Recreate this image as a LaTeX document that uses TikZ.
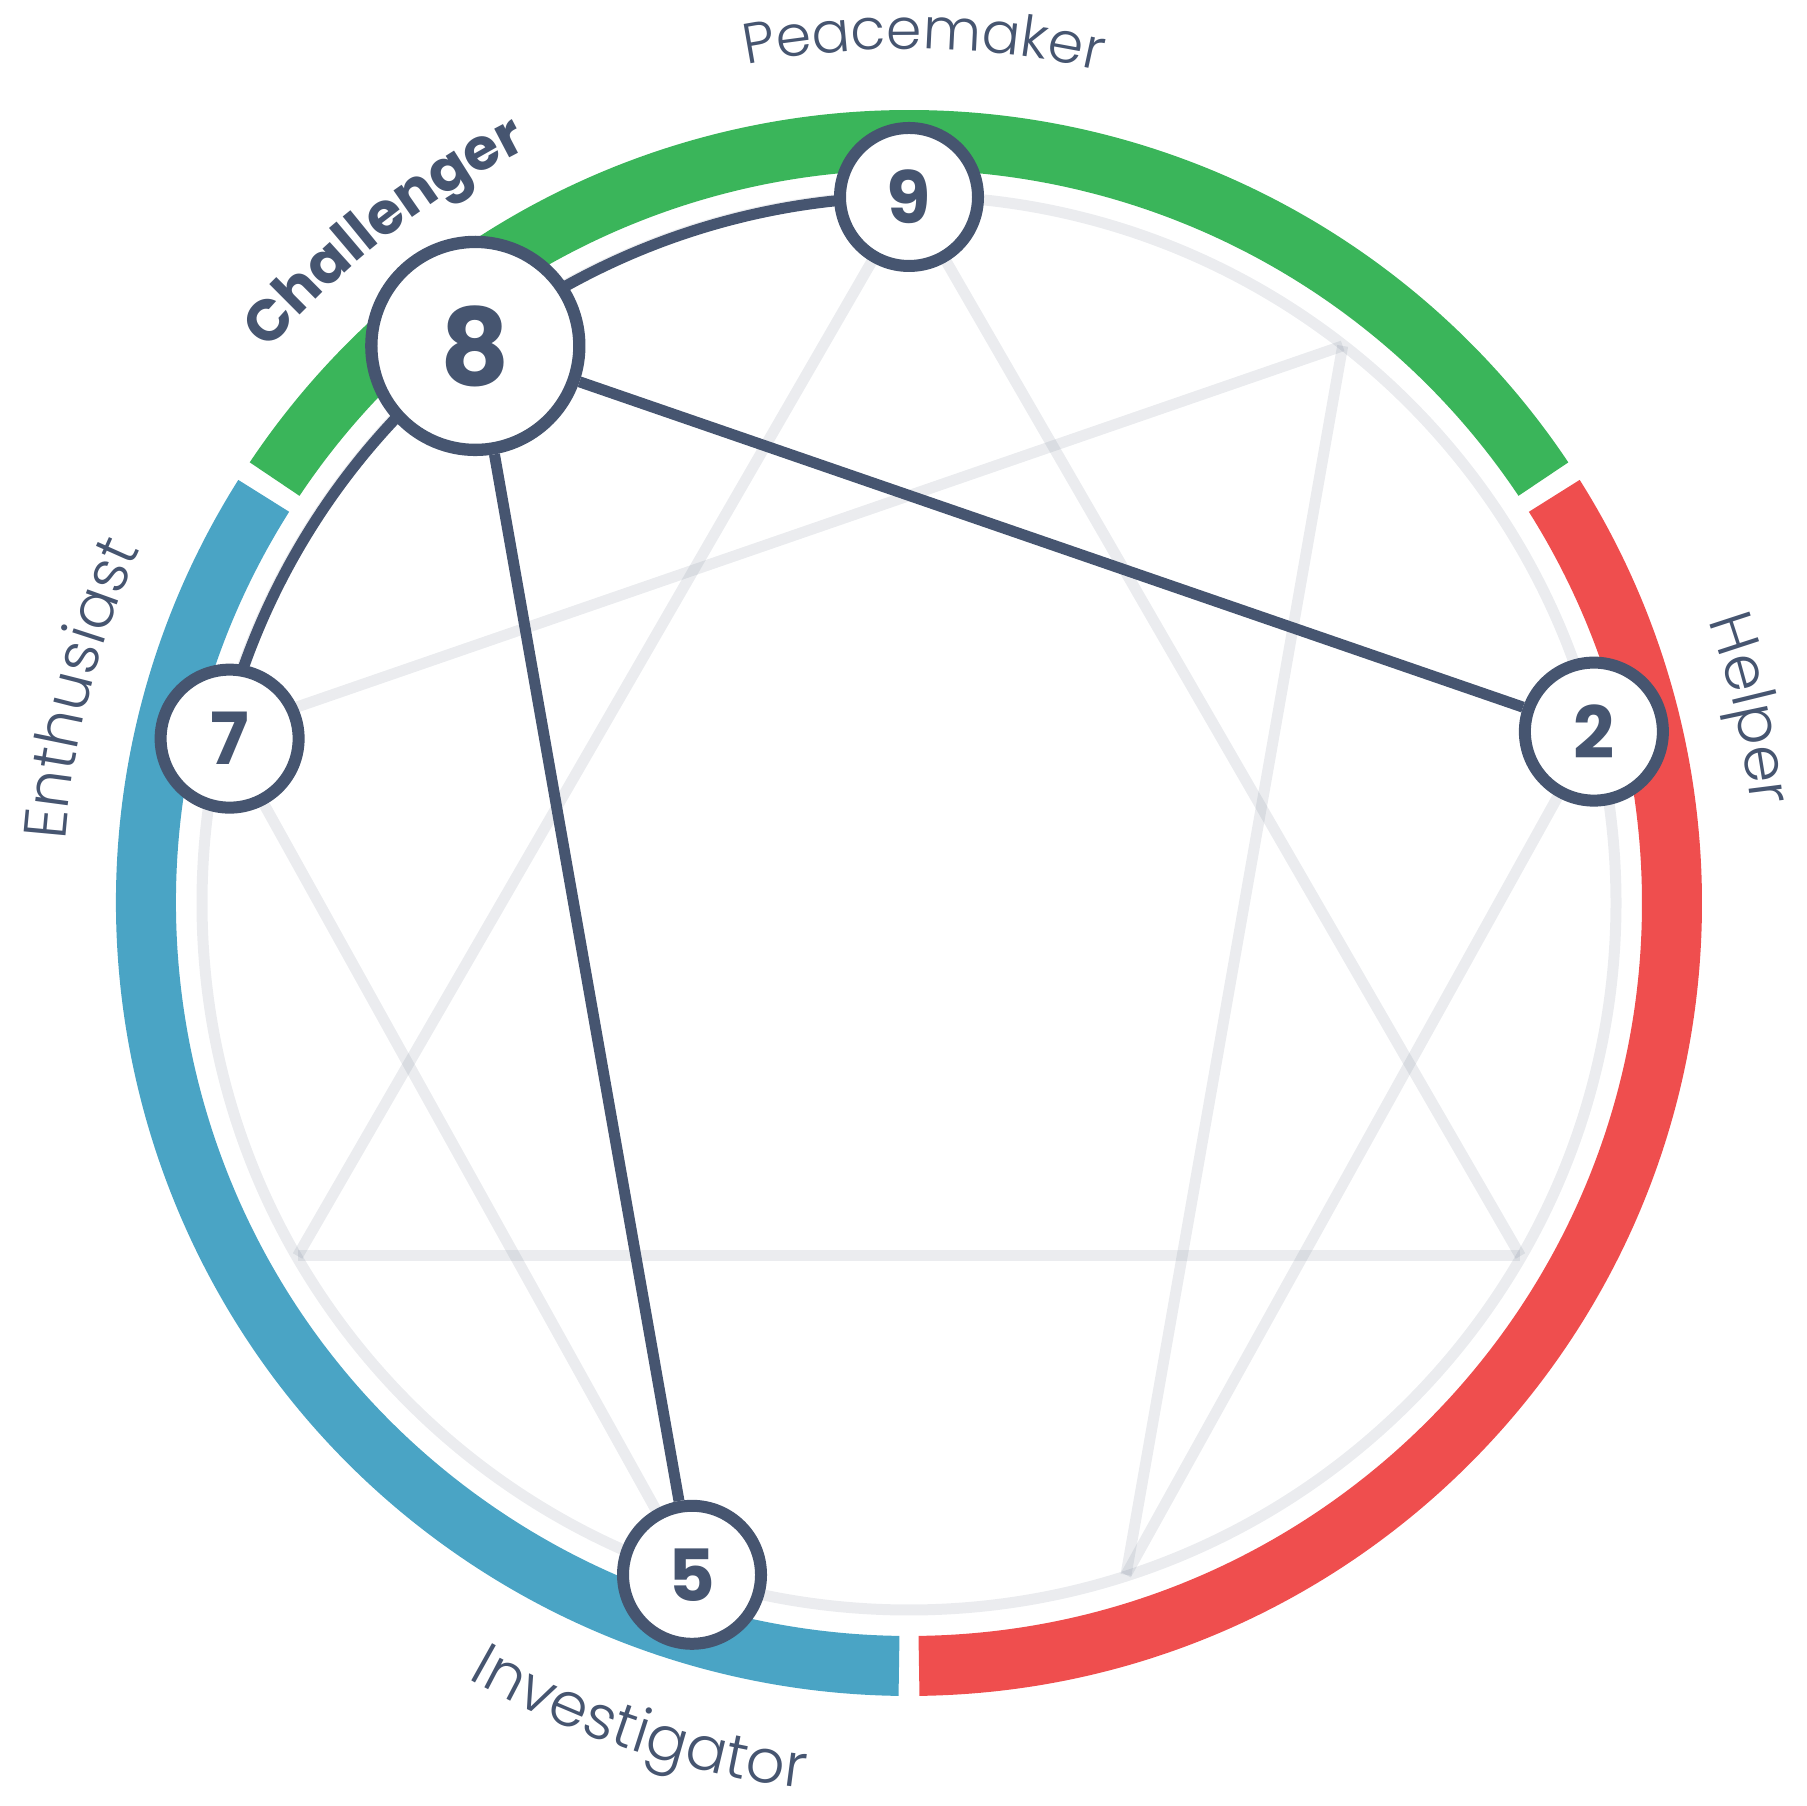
\documentclass[tikz,border=0pt]{standalone}
\usepackage{fontspec}
\setmainfont{Poppins}
\newfontfamily\lightfont{Poppins}[UprightFont={* Light}]
\usetikzlibrary{decorations.text,backgrounds}
\definecolor{slate}{HTML}{465570}
\definecolor{ringgreen}{HTML}{3AB55A}
\definecolor{ringred}{HTML}{EF4E4E}
\definecolor{ringblue}{HTML}{4AA4C5}
\tikzset{
  ringarc/.style={line width=60pt, line cap=butt},
  faint/.style={draw=slate, draw opacity=0.11, line width=11pt},
  strong/.style={draw=slate, line width=11pt},
  pt/.style={circle, draw=slate, fill=white, line width=12pt, inner sep=0pt,
    minimum size=138pt, text=slate, font=\bfseries\fontsize{72}{72}\selectfont},
  bigpt/.style={pt, minimum size=208pt, line width=12.3pt,
    font=\bfseries\fontsize{107}{107}\selectfont},
}
\begin{document}
\begin{tikzpicture}[x=1pt,y=1pt]
\useasboundingbox (0,0) rectangle (1807,1806);
\begin{scope}[shift={(909,903)}]
  % named points
  \coordinate (p1) at (52.1:706);
  \coordinate (p3) at (-30:706);
  \coordinate (p4) at (287.9:706);
  \coordinate (p6) at (210:706);
  \coordinate (p7) at (166:706);
  % nodes
  \node[pt] (n9) at (90:706) {9};
  \node[bigpt] (n8) at (127.9:706) {8};
  \node[pt] (n2) at (14.05:706) {2};
  \node[pt] (n7) at (166.4:699) {7};
  \node[pt] (n5) at (252.1:706) {5};
  \begin{scope}[on background layer]
    % coloured ring
    \draw[ringarc, ringgreen] (33.75:763) arc[start angle=33.75, end angle=146.25, radius=763pt];
    \draw[ringarc, ringblue] (147.75:763) arc[start angle=147.75, end angle=269.25, radius=763pt];
    \draw[ringarc, ringred] (270.75:763) arc[start angle=270.75, end angle=392.25, radius=763pt];
    % faint circle and lines
    \draw[faint] (0,0) circle[radius=707pt];
    \draw[faint] (n9.center) -- (p3);
    \draw[faint] (p3) -- (p6);
    \draw[faint] (p6) -- (n9.center);
    \draw[faint] (p1) -- (p4);
    \draw[faint] (p4) -- (n2.center);
    \draw[faint] (p7) -- (p1);
    \draw[faint] (p7) -- (n5.center);
    % strong connectors
    \draw[strong] (n8.center) arc[start angle=127.9, end angle=90, radius=706pt];
    \draw[strong] (n8.center) arc[start angle=127.9, end angle=166.2, radius=706pt];
    \draw[strong] (n8) -- (n2);
    \draw[strong] (n8) -- (n5);
  \end{scope}
  % labels
  \path[decorate, decoration={text along path, text align=center,
     text={|\lightfont\fontsize{57}{57}\selectfont\color{slate}|Peacemaker}}]
     (119:854) arc[start angle=119, end angle=59, radius=854pt];
  \path[decorate, decoration={text along path, text align=center,
     text={|\bfseries\fontsize{58}{58}\selectfont\color{slate}|Challenger}}]
     (158:846) arc[start angle=158, end angle=98, radius=846pt];
  \path[decorate, decoration={text along path, text align=center,
     text={|\lightfont\fontsize{60}{60}\selectfont\color{slate}|Enthusiast}}]
     (195.5:846) arc[start angle=195.5, end angle=135.5, radius=846pt];
  \path[decorate, decoration={text along path, text align=center,
     text={|\lightfont\fontsize{60}{60}\selectfont\color{slate}|Helper}}]
     (43:848) arc[start angle=43, end angle=-17, radius=848pt];
  \path[decorate, decoration={text along path, text align=center,
     text={|\lightfont\fontsize{61}{61}\selectfont\color{slate}|Investigator}}]
     (221.8:892) arc[start angle=221.8, end angle=281.8, radius=892pt];
\end{scope}
\end{tikzpicture}
\end{document}
